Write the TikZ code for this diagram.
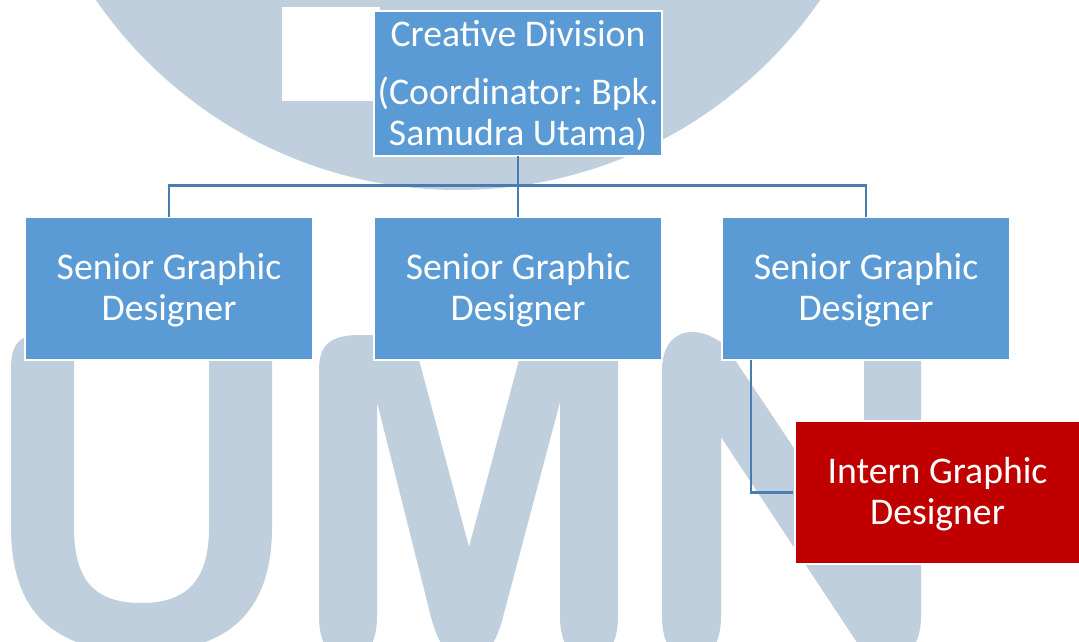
\documentclass[tikz,border=0pt]{standalone}
\usepackage{fontspec}
\setmainfont{Carlito}
\frenchspacing
\definecolor{wm}{HTML}{BFCFDD}
\definecolor{boxblue}{HTML}{5B9BD5}
\definecolor{boxred}{HTML}{C00000}
\definecolor{link}{HTML}{4A7DAF}
\newcommand{\topstrut}{\rule{0pt}{30pt}}
\tikzset{
  chart/.style={draw=white,line width=2pt,text=white,align=center,inner sep=0pt,
    font=\fontsize{37.7}{41}\selectfont},
  bluebox/.style={chart,fill=boxblue,minimum width=288pt,minimum height=143pt},
  redbox/.style={chart,fill=boxred,minimum width=285pt,minimum height=143pt},
  linkline/.style={draw=link,line width=2.5pt},
  mark shape/.style={fill=wm}
}
\begin{document}
\begin{tikzpicture}[x=1pt,y=-1pt]
\useasboundingbox (0,0) rectangle (1079,641);
\fill[white] (0,0) rectangle (1079,641);
\begin{scope}
\clip (0,0) rectangle (1079,641);
% watermark
\fill[mark shape] (458,-250) circle[radius=440];
\fill[white] (282,7) rectangle (380,101);
% U
\fill[mark shape] (11,370) .. controls (11,350) and (15,340) .. (30,335) -- (74,335) -- (74,527)
  .. controls (74,575) and (90,603) .. (141,603) .. controls (192,603) and (209,575) .. (209,527)
  -- (209,335) -- (272,335) -- (272,527)
  .. controls (272,600) and (240,652) .. (141,652) .. controls (42,652) and (11,600) .. (11,527) -- cycle;
% M
\fill[mark shape] (319,370) .. controls (319,345) and (330,335) .. (360,335) -- (413,335) -- (419,360)
  -- (469,547) -- (519,360) -- (525,335) -- (618,335) -- (618,617)
  .. controls (618,645) and (605,662) .. (589,662) .. controls (573,662) and (560,645) .. (560,617)
  -- (560,402) -- (503,617) .. controls (496,645) and (483,662) .. (467,662)
  .. controls (451,662) and (438,645) .. (431,617) -- (377,402) -- (377,617)
  .. controls (377,645) and (364,662) .. (348,662) .. controls (332,662) and (319,645) .. (319,617) -- cycle;
% N
\fill[mark shape] (662,370) .. controls (662,345) and (675,332) .. (692,332)
  .. controls (705,332) and (715,338) .. (725,345) -- (864,553) -- (864,340) -- (921,340) -- (921,617)
  .. controls (921,645) and (905,665) .. (885,665) .. controls (870,665) and (865,655) .. (856,641)
  -- (721,437) -- (721,617) .. controls (721,645) and (708,662) .. (691,662)
  .. controls (675,662) and (662,645) .. (662,617) -- cycle;
\end{scope}
% boxes
\node[bluebox,minimum height=145pt] (top) at (518,83.5) {\topstrut Creative Division\\[17pt](Coordinator: Bpk.\\Samudra Utama)};
\node[bluebox] (s1) at (169,288.5) {\topstrut Senior Graphic\\Designer};
\node[bluebox] (s2) at (518,288.5) {\topstrut Senior Graphic\\Designer};
\node[bluebox] (s3) at (866,288.5) {\topstrut Senior Graphic\\Designer};
\node[redbox] (intern) at (937.5,492.5) {\topstrut Intern Graphic\\Designer};
% connectors
\coordinate (bus) at (518,185.5);
\coordinate (drop) at (751,360);
\draw[linkline] ([yshift=1pt]top.south) -- ([yshift=-1pt]s2.north);
\draw[linkline] ([yshift=-1pt]s1.north) |- (bus) -| ([yshift=-1pt]s3.north);
\draw[linkline] (drop) |- ([xshift=-1pt]intern.west);
\end{tikzpicture}
\end{document}
